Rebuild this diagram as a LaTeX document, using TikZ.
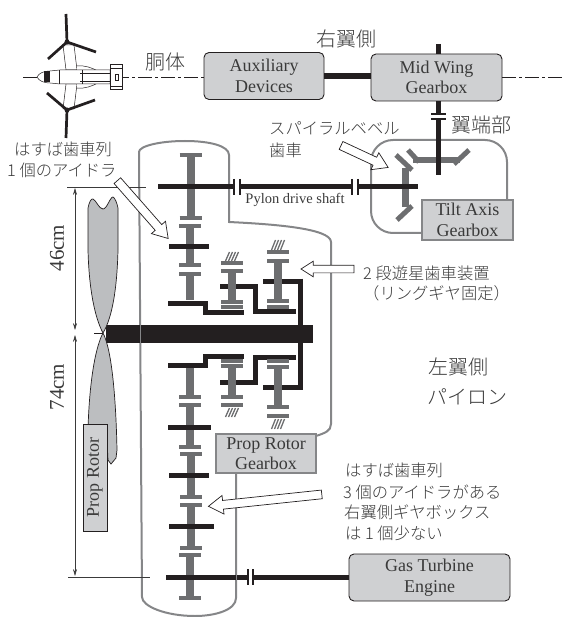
\documentclass[tikz,border=0pt]{standalone}
\usepackage{fontspec}
\setmainfont{Liberation Serif}
\newfontfamily\jp{Noto Sans CJK JP Light}
\usetikzlibrary{arrows.meta,shapes.arrows}
\definecolor{ink}{HTML}{231F20}
\definecolor{gear}{HTML}{6D6E70}
\definecolor{wall}{HTML}{858688}
\definecolor{boxfill}{HTML}{CFD0D2}
\definecolor{blade}{HTML}{BCBEC0}
\definecolor{txt}{HTML}{3A3A3A}
\tikzset{
  gbox/.style={draw=ink, fill=boxfill, rounded corners=5pt, line width=0.9pt, align=center,
    text=txt, font=\fontsize{18}{20.5}\selectfont, inner sep=0pt},
  wbox/.style={gbox, draw=wall, sharp corners, line width=2pt},
  shaft/.style={draw=ink, line width=5pt},
  thick shaft/.style={draw=ink, line width=6pt},
  stem/.style={draw=gear, line width=8pt},
  flange/.style={draw=gear, line width=4pt},
  bevel/.style={draw=gear, line width=5pt},
  coupl/.style={draw=ink, line width=2pt},
  hatch/.style={draw=gear, line width=1.3pt},
  housing/.style={draw=wall, line width=2pt},
  center line/.style={draw=ink, line width=0.6pt, dash pattern=on 14pt off 3pt on 3pt off 3pt},
  dim/.style={draw=txt, line width=0.6pt, {Stealth[length=2.4mm,width=1.4mm]}-{Stealth[length=2.4mm,width=1.4mm]}},
  ext/.style={draw=txt, line width=0.6pt},
  hollow/.style={single arrow, draw=ink, fill=white, line width=0.7pt, inner sep=0pt,
    single arrow head extend=5pt, single arrow tip angle=65},
  jbig/.style={text=txt, font=\jp\fontsize{20}{24}\selectfont, inner sep=0pt},
  jlbl/.style={text=txt, font=\jp\fontsize{16.3}{21}\selectfont, inner sep=0pt, align=left},
  rotor/.style={draw=ink, line width=2.7pt},
  ac/.style={draw=ink, line width=0.5pt},
}
\begin{document}
\begin{tikzpicture}[x=1pt,y=-1pt]
  \useasboundingbox (0,0) rectangle (563,617);
  % =================== boxes on the top row ===================
  \node[gbox, minimum width=120pt, minimum height=47pt] (aux) at (264,76) {Auxiliary\\ Devices};
  \node[gbox, minimum width=131pt, minimum height=47pt] (mid) at (436.5,77.5) {Mid Wing\\ Gearbox};
  \coordinate (clstart) at (23,77);
  \coordinate (clend) at (563,77);
  \draw[center line] (clstart) -- (clstart -| aux.west);
  \draw[center line] (mid.east |- clend) -- (clend);
  \draw[thick shaft] (aux.east |- 0,76.5) -- (mid.west |- 0,76.5);

  % =================== aircraft ===================
  \fill[white] (37,66) rectangle (122,89);
  \draw[ac, fill=white] (63,45) -- (66,70) -- (77,70) -- (74,45) -- cycle;
  \draw[ac, fill=white] (63,109) -- (66,84) -- (77,84) -- (74,109) -- cycle;
  \draw[ac, fill=white] (77,66) .. controls (85,65) and (92,68) .. (98,71) -- (98,83) .. controls (92,86) and (85,89) .. (77,88);
  \draw[ac, fill=white] (37,77) .. controls (39,73) and (44,71) .. (50,71) -- (60,70) -- (78,70) -- (110,70)
    -- (110,84) -- (78,84) -- (60,84) -- (50,83) .. controls (44,83) and (39,81) .. (37,77);
  \draw[ac] (80,73) -- (110,73) (80,81) -- (110,81) (59,70) -- (59,84) (82,70) -- (82,84);
  \fill[ink] (44,71.5) rectangle (50,82.5);
  \draw[ac, fill=white] (110,64) rectangle (122,89);
  \draw[ac] (110,68) -- (122,68) (110,86) -- (122,86) (115,74) rectangle (118,80);
  \coordinate (hubt) at (67,42);
  \coordinate (hubb) at (67,110);
  \draw[rotor] (hubt) -- (66,14) (hubt) -- (48,59) (hubt) -- (96,52);
  \draw[rotor] (hubb) -- (66,138) (hubb) -- (47,93) (hubb) -- (95,100);
  \fill[ink] (hubt) circle (2.5pt) (hubb) circle (2.5pt);

  % =================== housings ===================
  \draw[housing] (236,473) -- (236,598) .. controls (236,610) and (215,616) .. (195,616)
    .. controls (165,616) and (142,606) .. (142,597) -- (140,300) -- (139,152)
    .. controls (139,146) and (160,141) .. (185,141) .. controls (210,141) and (229,146) .. (229,155)
    -- (229,222) .. controls (270,224) and (331,228) .. (331,242) -- (331,424)
    .. controls (331,431) and (325,433) .. (316,436);
  \draw[housing, rounded corners=22pt] (422,233) -- (371,233) -- (371,140) -- (507,140) -- (507,201);

  % =================== prop rotor ===================
  \coordinate (hub) at (103,333);
  \draw[draw=ink, line width=18pt] (106,334) -- (313,334);
  \draw[wall, line width=1pt] (140,325) -- (140,343);
  \draw[ink, line width=0.7pt, fill=blade] (hub) .. controls (95,318) and (89,290) .. (88,250) -- (88,208)
    .. controls (89,203) and (91,198) .. (93,199) .. controls (96,200) and (99,209) .. (103,209)
    .. controls (107,209) and (110,197) .. (113,197) .. controls (115,198) and (117,203) .. (118,208)
    -- (118,250) .. controls (117,290) and (112,318) .. (hub);
  \draw[ink, line width=0.7pt, fill=blade] (hub) .. controls (94,350) and (89,390) .. (88,430) -- (107,440)
    -- (108,460) -- (111,464) -- (116,458) -- (117,450) .. controls (116,400) and (112,350) .. (hub);
  \draw[ink, line width=0.7pt] (94,333) -- (hub);
  \node[gbox, draw=ink, sharp corners, minimum width=107pt, minimum height=24pt, rotate=90] (rotorbox) at (95,477.5) {Prop Rotor};

  % =================== dimensions ===================
  \draw[ext] (67,187) -- (146,187);
  \draw[ext] (68,577) -- (150,577);
  \draw[dim] (75,188) -- (75,330);
  \draw[dim] (75,335) -- (75,576);
  \node[text=txt, font=\fontsize{21}{24}\selectfont, rotate=90, inner sep=0pt] (d46) at (57,248) {46cm};
  \node[text=txt, font=\fontsize{21}{24}\selectfont, rotate=90, inner sep=0pt] (d74) at (57,387) {74cm};

  % =================== planetary carriers ===================
  \draw[shaft] (300,278.5) -- (300,389.5);
  \draw[shaft, line join=miter] (168,303) -- (205,303) -- (205,312) -- (244,312);
  \draw[shaft, line join=miter] (168,365) -- (205,365) -- (205,356) -- (244,356);
  \draw[shaft, line join=miter] (220,286) -- (255,286) -- (255,311) -- (296,311);
  \draw[shaft, line join=miter] (220,382) -- (255,382) -- (255,357) -- (296,357);
  \draw[shaft] (263,281) -- (302,281);
  \draw[shaft] (263,387) -- (302,387);

  % =================== gears ===================
  \foreach \x/\a/\b in {190.5/155/218,190/226/265,190/405/447,191/454/497,191/505/548,190/555/598,
      232/271/302,232/366/397,278/261/301,278/367/407}{
    \draw[stem] (\x,\a) -- (\x,\b);
    \draw[flange] (\x-11,\a) -- (\x+11,\a);
    \draw[flange] (\x-11,\b) -- (\x+11,\b);}
  \draw[stem] (190,274) -- (190,300);
  \draw[flange] (179,274) -- (201,274);
  \draw[stem] (190,368) -- (190,397);
  \draw[flange] (179,397) -- (201,397);
  \foreach \x/\y in {232/263,232/307,232/361,232/405,278/252,278/307,278/361,278/416}{
    \draw[flange] (\x-11,\y) -- (\x+11,\y);}
  \foreach \x/\b/\t in {232/261/252,232/417/408,278/250/240,278/429/419}{
    \foreach \d in {-4.5,-1.5,1.5,4.5}{
      \draw[hatch] (\x+\d-2,\b) -- (\x+\d+2,\t);}}
  \foreach \y/\l/\r in {246/169/209,427/168/211,475/169/209,526/169/214}{
    \draw[shaft] (\l,\y) -- (\r,\y);}

  % =================== bevels of the tilt axis ===================
  \coordinate (bevt) at (438.5,175);
  \coordinate (pds) at (418,187);
  \coordinate (pdsl) at (158,187);
  \draw[flange, line width=6pt] (413,160) -- (460,160);
  \draw[bevel] (408,150) -- (419,162);
  \draw[bevel] (469,150) -- (454,164);
  \draw[stem, line width=7pt] (405,168) -- (405,207);
  \draw[bevel] (396,155) -- (412,170);
  \draw[bevel] (412,206) -- (397,220);
  \draw[shaft] (pdsl) -- (pds);
  \draw[shaft] (mid.south -| bevt) -- (bevt);
  \draw[shaft] (438.5,44) -- (mid.north -| 438.5,0);
  \node[wbox, minimum width=91pt, minimum height=40pt] (tilt) at (467.5,220) {Tilt Axis\\ Gearbox};
  \node[wbox, minimum width=100pt, minimum height=39pt] (prop) at (266,453.5) {Prop Rotor\\ Gearbox};
  \node[gbox, minimum width=161pt, minimum height=47pt] (gas) at (429.5,577.5) {Gas Turbine\\ Engine};
  \coordinate (bsl) at (166,577);
  \draw[shaft] (bsl) -- (gas.west |- bsl);
  \draw[wall, line width=1pt] (236,574) -- (236,580);

  % =================== couplings ===================
  \foreach \x/\y in {237/187,355/187,250.5/577}{
    \fill[white] (\x-3,\y-4) rectangle (\x+3,\y+4);
    \draw[coupl] (\x-2.7,\y-8) -- (\x-2.7,\y+8);
    \draw[coupl] (\x+2.7,\y-8) -- (\x+2.7,\y+8);}
  \fill[white] (434,114.5) rectangle (443,119.5);
  \draw[coupl] (431,114.5) -- (446,114.5);
  \draw[coupl] (431,119.5) -- (446,119.5);

  % =================== hollow arrows ===================
  \node[hollow, minimum height=77pt, rotate=-48.7] (harr) at (140.5,207) {\rule{0pt}{8pt}};
  \node[hollow, minimum height=52pt, rotate=-25] (sarr) at (361.5,155) {\rule{0pt}{8pt}};
  \node[hollow, minimum height=53pt, single arrow head extend=4pt, rotate=180] (parr) at (330.5,269) {\rule{0pt}{7pt}};
  \node[hollow, minimum height=114pt, rotate=186] (iarr) at (268.5,500) {\rule{0pt}{8pt}};

  % =================== labels ===================
  \node[jbig] (body) at (165,62) {胴体};
  \node[jbig] (rwing) at (346,39) {右翼側};
  \node[jbig] (tip) at (481,125) {翼端部};
  \node[jbig] (lwing) at (458,367) {左翼側};
  \node[jbig] (pylon) at (467,397) {パイロン};
  \node[jlbl, anchor=west] (spiral) at (269,128) {スパイラルベベル};
  \node[jlbl, anchor=west] (spiral2) at (269,150) {歯車};
  \node[jlbl, anchor=west] (helical) at (14,149) {はすば歯車列};
  \node[jlbl, anchor=west] (idler) at (7,170) {1 個のアイドラ};
  \node[jlbl, anchor=west] (plan) at (363,273) {2 段遊星歯車装置};
  \node[jlbl, anchor=west] (plan2) at (363,293) {（リングギヤ固定）};
  \node[jlbl, anchor=west] (l1) at (345,470) {はすば歯車列};
  \node[jlbl, anchor=west] (l2) at (343,492) {3 個のアイドラがある};
  \node[jlbl, anchor=west] (l3) at (344,512) {右翼側ギヤボックス};
  \node[jlbl, anchor=west] (l4) at (345,533) {は 1 個少ない};
  \node[text=txt, font=\fontsize{14.5}{16}\selectfont, inner sep=0pt] (pylonshaft) at (295,200) {Pylon drive shaft};
\end{tikzpicture}
\end{document}
